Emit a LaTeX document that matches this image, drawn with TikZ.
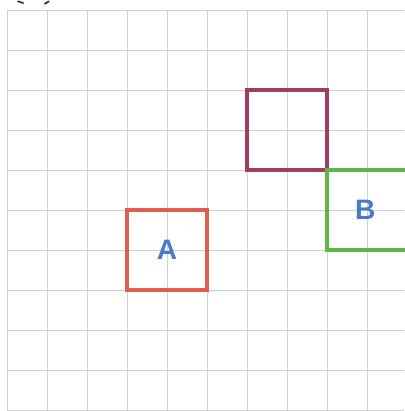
\documentclass[tikz,border=0pt]{standalone}
\usepackage{fontspec}
\setsansfont{Liberation Sans}
\usepackage{xcolor}
\usetikzlibrary{positioning}

\definecolor{redbox}{RGB}{226,92,80}
\definecolor{plumbox}{RGB}{158,62,92}
\definecolor{greenbox}{RGB}{96,180,74}
\definecolor{letter}{RGB}{74,122,200}

\begin{document}
\begin{tikzpicture}[box/.style={draw, minimum size=2cm, line width=2.2pt, inner sep=0pt, outer sep=0pt,
                    font=\sffamily\bfseries\fontsize{20}{20}\selectfont, text=letter}]
        \useasboundingbox (0,0) rectangle (10.1,10.275);
        \draw[gray!35, line width=0.6pt, shift={(0.175,0.025)}] (0,0) grid (9.925,10);

        \node[box, draw=plumbox] (p) at (7.175,7.025) {};
        \node[box, draw=greenbox, anchor=north west, text width=1.8cm, align=left] (b) at (p.south east) {\hspace{0.6cm}B};
        \node[box, draw=redbox] (a) at (4.175,4.025) {A};

        % marks at the top
        \draw[black!80, line width=1.2pt, line cap=round] (0.45,10.24) -- (0.58,10.2);
        \draw[black!80, line width=1.2pt, line cap=round] (1.12,10.18) -- (1.22,10.24);
    \end{tikzpicture}
\end{document}
